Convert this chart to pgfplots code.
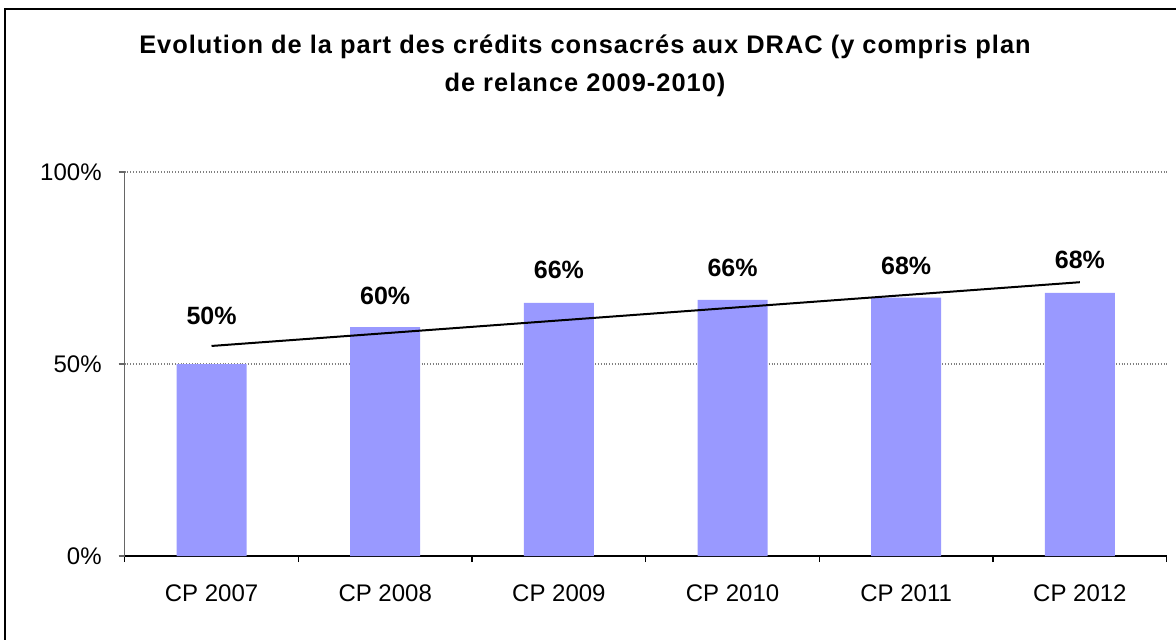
\documentclass[border=0pt]{standalone}
\usepackage{fontspec}
\setmainfont{Liberation Sans}
\newfontfamily\titlefont[LetterSpace=4]{Liberation Sans}
\usepackage{pgfplots}
\pgfplotsset{compat=1.18}
\definecolor{barblue}{HTML}{9999FF}
\begin{document}
\begin{tikzpicture}
\path[use as bounding box] (-62.35pt,-41.5pt) rectangle (525.65pt,278pt);
\draw[line width=1pt] (-59.85pt,-45pt) -- (-59.85pt,273.5pt) -- (530pt,273.5pt);
\node[align=center, font=\titlefont\bfseries\fontsize{12.7}{19}\selectfont] at (230.15pt,245pt)
  {Evolution de la part des crédits consacrés aux DRAC (y compris plan\\de relance 2009-2010)};
\begin{axis}[
  scale only axis,
  width=521pt, height=192pt,
  xmin=-0.5, xmax=5.5, ymin=0, ymax=100,
  axis x line=bottom, axis y line=left,
  x axis line style={-, black, line width=0.6pt},
  y axis line style={-, gray!80!black, line width=0.6pt},
  xtick={-0.5,0.5,...,5.5}, xticklabels={},
  extra x ticks={0,1,2,3,4,5},
  extra x tick labels={CP 2007,CP 2008,CP 2009,CP 2010,CP 2011,CP 2012},
  extra x tick style={major tick length=0pt, xticklabel style={yshift=-11pt}},
  ytick={0,50,100}, yticklabels={0\%,50\%,100\%},
  tick align=outside, major tick length=3pt,
  xtick style={black, line width=0.6pt},
  ytick style={gray!80!black, line width=0.6pt},
  ymajorgrids, grid style={densely dotted, gray, line width=0.6pt},
  tick label style={font=\fontsize{12}{14}\selectfont},
  yticklabel style={xshift=-5pt},
  /pgf/number format/assume math mode=true,
  clip=false,
]
\addplot[ybar, bar width=35pt, bar shift=0pt, fill=barblue, draw=none]
  coordinates {(0,50.0) (1,59.6) (2,65.9) (3,66.7) (4,67.3) (5,68.5)};
\addplot[black, line width=1pt, mark=none]
  coordinates {(0,54.7) (5,71.3)};
\addplot[only marks, mark=none, nodes near coords, point meta=explicit symbolic,
  every node near coord/.style={anchor=center, font=\bfseries\fontsize{12.5}{14}\selectfont}]
  table[meta=lab] {
x y lab
0 62.5 50\%
1 67.7 60\%
2 74.5 66\%
3 75.0 66\%
4 75.5 68\%
5 77.0 68\%
};
\end{axis}
\end{tikzpicture}
\end{document}
